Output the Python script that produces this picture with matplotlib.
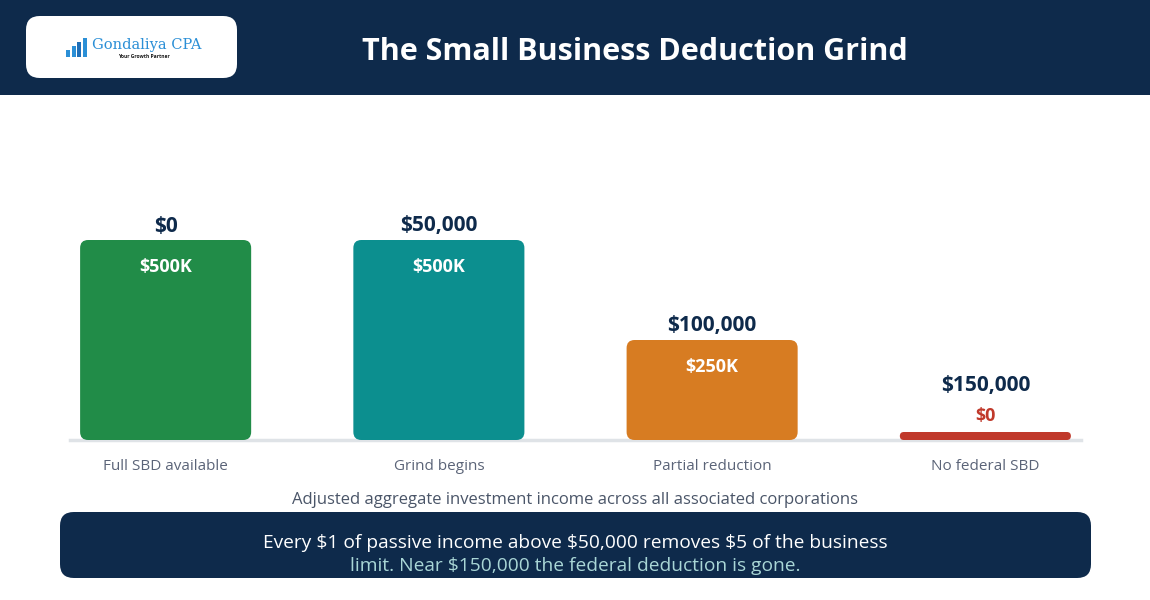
import matplotlib
matplotlib.use("Agg")
import matplotlib.pyplot as plt
from matplotlib.patches import FancyBboxPatch, Rectangle

# data
categories = ["Full SBD available", "Grind begins", "Partial reduction", "No federal SBD"]
income_labels = ["$0", "$50,000", "$100,000", "$150,000"]
business_limit_k = [500, 500, 250, 0]
limit_labels = ["$500K", "$500K", "$250K", "$0"]
bar_colors = ["#218c48", "#0c8f8f", "#d77c22", "#c0392b"]

NAVY = "#0e2a4b"
FONT = "Open Sans"
plt.rcParams["font.family"] = [FONT, "DejaVu Sans"]

W, H = 1150, 600
fig = plt.figure(figsize=(W / 100, H / 100), dpi=100)
fig.patch.set_facecolor("white")


def fx(px):
    return px / W


def fy(py):
    return 1 - py / H


# header band
fig.patches.append(Rectangle((0, fy(95)), 1, 95 / H, transform=fig.transFigure,
                             facecolor=NAVY, edgecolor="none", zorder=0))
# logo card
fig.patches.append(FancyBboxPatch((fx(26), fy(78)), fx(211), 62 / H,
                                  boxstyle="round,pad=0,rounding_size=0.012",
                                  mutation_aspect=W / H,
                                  transform=fig.transFigure, facecolor="white",
                                  edgecolor="none", zorder=1))
# small logo icon bars
for i, (hh, col) in enumerate([(7, "#2b8fd6"), (11, "#2b8fd6"), (15, "#1f6fb8"), (19, "#2b8fd6")]):
    fig.patches.append(Rectangle((fx(66 + i * 5.5), fy(57)), fx(4), hh / H,
                                 transform=fig.transFigure, facecolor=col,
                                 edgecolor="none", zorder=2))
fig.text(fx(92), fy(45), "Gondaliya CPA", color="#2b8fd6", fontsize=10.5,
         family="DejaVu Serif", ha="left", va="center", zorder=3)
fig.text(fx(144), fy(56), "Your Growth Partner", color="#1a1a1a", fontsize=3.6,
         fontweight="bold", ha="center", va="center", zorder=3)

fig.text(fx(635), fy(52), "The Small Business Deduction Grind", color="white",
         fontsize=22, fontweight="bold", ha="center", va="center")

# chart axes: baseline at y=440px, 0.4 px per $K
ax = fig.add_axes([fx(70), fy(440), fx(1011), 300 / H])
ax.set_xlim(-0.35, 3.35)
ax.set_ylim(0, 750)
ax.axis("off")

px_per_x = 1011 / 3.7
px_per_y = 300 / 750
bar_w = 0.626
min_h = 8 / px_per_y

for i, v in enumerate(business_limit_k):
    h = max(v, min_h)
    r_px = min(8, h * px_per_y / 2)
    ax.add_patch(FancyBboxPatch((i - bar_w / 2, 0), bar_w, h,
                                boxstyle=f"round,pad=0,rounding_size={r_px / px_per_x}",
                                mutation_aspect=px_per_x / px_per_y,
                                facecolor=bar_colors[i], edgecolor="none", zorder=2))
    if v > 0:
        ax.text(i, h - 27 / px_per_y, limit_labels[i], color="white", fontsize=13,
                fontweight="bold", ha="center", va="center", zorder=3)
        ax.text(i, h + 14 / px_per_y, income_labels[i], color=NAVY, fontsize=15,
                fontweight="bold", ha="center", va="center", zorder=3)
    else:
        ax.text(i, h + 16 / px_per_y, limit_labels[i], color=bar_colors[i], fontsize=13,
                fontweight="bold", ha="center", va="center", zorder=3)
        ax.text(i, h + 46 / px_per_y, income_labels[i], color=NAVY, fontsize=15,
                fontweight="bold", ha="center", va="center", zorder=3)
    ax.text(i, -27 / px_per_y, categories[i], color="#5b6478", fontsize=11,
            ha="center", va="center", clip_on=False)

ax.axhline(0, color="#dfe3e7", lw=2.5, zorder=1, clip_on=False)

fig.text(fx(575), fy(500), "Adjusted aggregate investment income across all associated corporations",
         color="#4a5568", fontsize=12, ha="center", va="center")

# note box
fig.patches.append(FancyBboxPatch((fx(60), fy(578)), fx(1031), 66 / H,
                                  boxstyle="round,pad=0,rounding_size=0.012",
                                  mutation_aspect=W / H,
                                  transform=fig.transFigure, facecolor=NAVY,
                                  edgecolor="none", zorder=0))
fig.text(fx(575), fy(543), "Every $1 of passive income above $50,000 removes $5 of the business",
         color="white", fontsize=13.8, ha="center", va="center")
fig.text(fx(575), fy(566), "limit. Near $150,000 the federal deduction is gone.",
         color="#a9d6d6", fontsize=13.8, ha="center", va="center")

fig.savefig("out.png", dpi=100)
